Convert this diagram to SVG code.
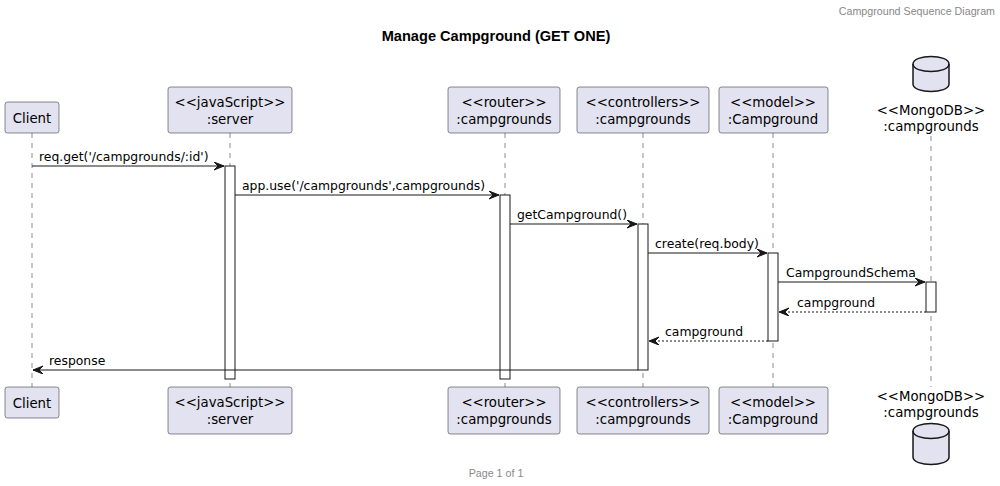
<svg xmlns="http://www.w3.org/2000/svg" width="1000" height="486" viewBox="0 0 1000 486">
<style>
text{font-family:"DejaVu Sans","Liberation Sans",sans-serif;fill:#000}
.p{fill:#E2E2F0;stroke:#181818;stroke-width:0.5}
.pt{font-size:13.3px;text-anchor:middle}
.life{stroke:#181818;stroke-width:0.5;stroke-dasharray:5,5}
.act{fill:#fff;stroke:#181818;stroke-width:1}
.msg{stroke:#181818;stroke-width:1;fill:none}
.ret{stroke:#181818;stroke-width:1;fill:none;stroke-dasharray:2,2}
.ml{font-size:12.4px}
.db{fill:#E2E2F0;stroke:#181818;stroke-width:1.5}
.g{font-family:"Liberation Sans",Arial,sans-serif;font-size:10.7px;fill:#888}
</style>
<defs>
<marker id="ah" markerUnits="userSpaceOnUse" markerWidth="12" markerHeight="10" refX="10" refY="4" orient="auto" viewBox="0 0 12 10">
<path d="M0,0 L10,4 L0,8 L4,4 Z" fill="#181818" stroke="#181818" stroke-width="1"/>
</marker>
</defs>
<rect width="1000" height="486" fill="#fff"/>
<text class="g" x="995" y="15" text-anchor="end">Campground Sequence Diagram</text>
<text x="496" y="41" font-size="14.6" font-weight="bold" text-anchor="middle" style="font-family:'Liberation Sans',Arial,sans-serif">Manage Campground (GET ONE)</text>
<text class="g" x="496" y="477" text-anchor="middle">Page 1 of 1</text>

<g id="lifelines">
<line class="life" x1="32" y1="133" x2="32" y2="387"/>
<line class="life" x1="230" y1="133" x2="230" y2="387"/>
<line class="life" x1="505" y1="133" x2="505" y2="387"/>
<line class="life" x1="643" y1="133" x2="643" y2="387"/>
<line class="life" x1="773" y1="133" x2="773" y2="387"/>
<line class="life" x1="931" y1="136" x2="931" y2="387"/>
</g>

<g id="activations">
<rect class="act" x="225" y="166" width="10" height="213"/>
<rect class="act" x="500" y="195" width="10" height="184"/>
<rect class="act" x="638" y="224" width="10" height="146"/>
<rect class="act" x="768" y="253" width="10" height="88"/>
<rect class="act" x="926" y="282" width="10" height="30"/>
</g>

<g id="p-client">
<rect class="p" x="5" y="102" width="54" height="31" rx="2.5"/>
<text class="pt" x="32" y="123">Client</text>
<rect class="p" x="5" y="387" width="54" height="31" rx="2.5"/>
<text class="pt" x="32" y="408">Client</text>
</g>
<g id="p-server">
<rect class="p" x="168" y="87" width="124" height="46" rx="2.5"/>
<text class="pt" x="230" y="107">&lt;&lt;javaScript&gt;&gt;</text>
<text class="pt" x="230" y="124">:server</text>
<rect class="p" x="168" y="387" width="124" height="47" rx="2.5"/>
<text class="pt" x="230" y="407">&lt;&lt;javaScript&gt;&gt;</text>
<text class="pt" x="230" y="424">:server</text>
</g>
<g id="p-router">
<rect class="p" x="448" y="87" width="112" height="46" rx="2.5"/>
<text class="pt" x="504" y="107">&lt;&lt;router&gt;&gt;</text>
<text class="pt" x="504" y="124">:campgrounds</text>
<rect class="p" x="448" y="387" width="112" height="47" rx="2.5"/>
<text class="pt" x="504" y="407">&lt;&lt;router&gt;&gt;</text>
<text class="pt" x="504" y="424">:campgrounds</text>
</g>
<g id="p-controllers">
<rect class="p" x="577" y="87" width="132" height="46" rx="2.5"/>
<text class="pt" x="643" y="107">&lt;&lt;controllers&gt;&gt;</text>
<text class="pt" x="643" y="124">:campgrounds</text>
<rect class="p" x="577" y="387" width="132" height="47" rx="2.5"/>
<text class="pt" x="643" y="407">&lt;&lt;controllers&gt;&gt;</text>
<text class="pt" x="643" y="424">:campgrounds</text>
</g>
<g id="p-model">
<rect class="p" x="719" y="87" width="109" height="46" rx="2.5"/>
<text class="pt" x="773" y="107">&lt;&lt;model&gt;&gt;</text>
<text class="pt" x="773" y="124">:Campground</text>
<rect class="p" x="719" y="387" width="109" height="47" rx="2.5"/>
<text class="pt" x="773" y="407">&lt;&lt;model&gt;&gt;</text>
<text class="pt" x="773" y="424">:Campground</text>
</g>
<g id="p-db">
<path class="db" d="M913,64 C913,54 949,54 949,64 L949,84 C949,94 913,94 913,84 Z"/>
<path class="db" style="fill:none" d="M913,64 C913,74 949,74 949,64"/>
<text class="pt" x="931" y="115">&lt;&lt;MongoDB&gt;&gt;</text>
<text class="pt" x="931" y="131">:campgrounds</text>
<text class="pt" x="931" y="401">&lt;&lt;MongoDB&gt;&gt;</text>
<text class="pt" x="931" y="417">:campgrounds</text>
<path class="db" d="M913,431 C913,421 949,421 949,431 L949,457 C949,467 913,467 913,457 Z"/>
<path class="db" style="fill:none" d="M913,431 C913,441 949,441 949,431"/>
</g>

<g id="connectors">
<line class="msg" x1="32" y1="166" x2="224" y2="166" marker-end="url(#ah)"/>
<text class="ml" x="39" y="161">req.get('/campgrounds/:id')</text>
<line class="msg" x1="235" y1="195" x2="499" y2="195" marker-end="url(#ah)"/>
<text class="ml" x="242" y="190">app.use('/campgrounds',campgrounds)</text>
<line class="msg" x1="510" y1="224" x2="637" y2="224" marker-end="url(#ah)"/>
<text class="ml" x="517" y="219">getCampground()</text>
<line class="msg" x1="648" y1="253" x2="767" y2="253" marker-end="url(#ah)"/>
<text class="ml" x="655" y="248">create(req.body)</text>
<line class="msg" x1="778" y1="282" x2="925" y2="282" marker-end="url(#ah)"/>
<text class="ml" x="786" y="277">CampgroundSchema</text>
<line class="ret" x1="926" y1="312" x2="779" y2="312" marker-end="url(#ah)"/>
<text class="ml" x="797" y="307">campground</text>
<line class="ret" x1="768" y1="341" x2="649" y2="341" marker-end="url(#ah)"/>
<text class="ml" x="665" y="336">campground</text>
<line class="msg" x1="638" y1="370" x2="33" y2="370" marker-end="url(#ah)"/>
<text class="ml" x="49" y="365">response</text>
</g>
</svg>
